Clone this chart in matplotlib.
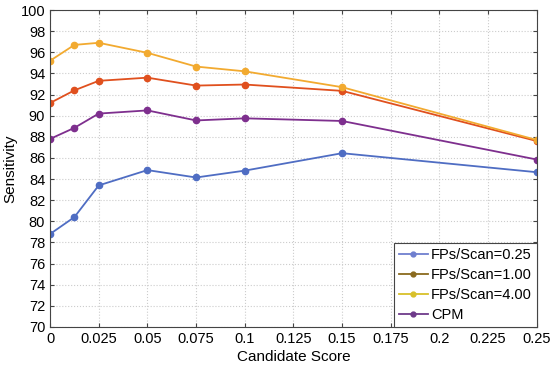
import matplotlib.pyplot as plt
from matplotlib.lines import Line2D

plt.rcParams['font.family'] = ['Liberation Sans', 'DejaVu Sans']

score = [0, 0.0125, 0.025, 0.05, 0.075, 0.1, 0.15, 0.25]
fps025 = [78.8, 80.4, 83.4, 84.85, 84.15, 84.8, 86.45, 84.65]
fps100 = [91.2, 92.4, 93.3, 93.6, 92.85, 92.95, 92.35, 87.6]
fps400 = [95.2, 96.7, 96.9, 95.95, 94.65, 94.2, 92.7, 87.7]
cpm = [87.8, 88.85, 90.2, 90.5, 89.55, 89.75, 89.5, 85.85]

xticks = [0, 0.025, 0.05, 0.075, 0.1, 0.125, 0.15, 0.175, 0.2, 0.225, 0.25]
xlabels = ["0", "0.025", "0.05", "0.075", "0.1", "0.125", "0.15", "0.175", "0.2", "0.225", "0.25"]
yticks = list(range(70, 101, 2))

colors = ["#4F6DC3", "#E0501E", "#F2AA30", "#7E2F8E"]
legend_colors = ["#6F7FCF", "#8A6A1E", "#D8C02A", "#6E3A8A"]
names = ["FPs/Scan=0.25", "FPs/Scan=1.00", "FPs/Scan=4.00", "CPM"]

fig = plt.figure(figsize=(5.5, 3.72), dpi=100)
ax = fig.add_axes([0.091, 0.121, 0.885, 0.852])

for ys, c in zip([fps025, fps100, fps400, cpm], colors):
    ax.plot(score, ys, color=c, marker='o', markersize=4.5, linewidth=1.3)

ax.set_xlim(0, 0.25)
ax.set_ylim(70, 100)
ax.set_xticks(xticks)
ax.set_xticklabels(xlabels)
ax.set_yticks(yticks)
ax.grid(True, linestyle=':', color='#cccccc', linewidth=0.8)
ax.tick_params(direction='in', top=True, right=True, labelsize=10.5, length=3, color='#444444')
for s in ax.spines.values():
    s.set_color('#444444')
    s.set_linewidth(0.8)
ax.set_xlabel("Candidate Score", fontsize=11, labelpad=3)
ax.set_ylabel("Sensitivity", fontsize=11, labelpad=2)

handles = [Line2D([], [], color=c, marker='o', markersize=3.5, linewidth=1.3) for c in legend_colors]
leg = ax.legend(handles, names, loc='lower right', fontsize=10.5, fancybox=False,
                framealpha=1, edgecolor='#444444', borderaxespad=0, handlelength=2.0,
                handletextpad=0.2, labelspacing=0.4, borderpad=0.35)
leg.get_frame().set_linewidth(0.8)

fig.savefig("out.png", dpi=100)
